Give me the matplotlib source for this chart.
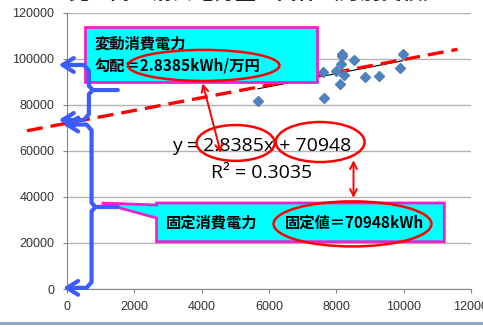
import matplotlib
matplotlib.use("Agg")
import matplotlib.pyplot as plt
from matplotlib.patches import Ellipse, Rectangle, Polygon

# monthly data: sales (万円) vs. power consumption (kWh)
sales = [5670, 7620, 7600, 8000, 8170, 8160, 8140, 8240, 8115, 8510, 8860, 9260, 9970, 9890]
power = [81900, 83200, 94500, 94800, 102200, 101200, 97800, 93000, 89100, 99600, 92300, 92600, 102200, 96000]

slope = 2.8385
intercept = 70948
r2 = 0.3035

# hand-drawn guide line (red dashed)
guide_x = [-1190, 11600]
guide_y = [68800, 104200]

x_ticks = [0, 2000, 4000, 6000, 8000, 10000, 12000]
y_ticks = [0, 20000, 40000, 60000, 80000, 100000, 120000]

cjk = ['Noto Sans CJK JP', 'DejaVu Sans']
blue = '#3b5cff'
magenta = '#ee22cc'
cyan = '#00ffff'

fig = plt.figure(figsize=(4.83, 3.27), dpi=100)
ax = fig.add_axes([67 / 483, 1 - 289 / 327, 404 / 483, 276 / 327])

ax.set_xlim(0, 12000)
ax.set_ylim(0, 120000)
ax.set_xticks(x_ticks)
ax.set_yticks(y_ticks)
ax.set_xticklabels([str(v) for v in x_ticks])
ax.set_yticklabels([str(v) for v in y_ticks])
ax.tick_params(axis='both', labelsize=9, labelcolor='#333333', color='#868686', length=3)
ax.tick_params(axis='y', pad=6)
ax.tick_params(axis='x', pad=6)
for lab in ax.get_xticklabels() + ax.get_yticklabels():
    lab.set_fontfamily('Liberation Sans')
ax.grid(axis='y', color='#b3b3b3', lw=1)
ax.set_axisbelow(True)
for s in ['top', 'right']:
    ax.spines[s].set_visible(False)
for s in ['left', 'bottom']:
    ax.spines[s].set_color('#868686')

# scatter + trend line
ax.plot(sales, power, 'D', color='#4f81bd', ms=5.5, mec='#4f81bd', zorder=4)
tx = [min(sales), max(sales)]
ax.plot(tx, [slope * v + intercept for v in tx], color='black', lw=0.8, zorder=3)

# red dashed guide
ax.plot(guide_x, guide_y, color='#ff0000', lw=2.4, dashes=(4.8, 2.4), clip_on=False, zorder=3)

# equation text
ax.text(5790, 60000, f"y = {slope}x + {intercept}", ha='center', va='baseline',
        fontsize=14, family='Open Sans', color='black', zorder=6)
ax.text(5790, 48200, f"R² = {r2}", ha='center', va='baseline',
        fontsize=14, family='Open Sans', color='black', zorder=6)

# top box: variable consumption
ax.add_patch(Rectangle((530, 90100), 6910, 23700, fc=cyan, ec=magenta, lw=2,
                       clip_on=False, zorder=5))
ax.text(830, 106800, "変動消費電力", ha='left', va='center', fontsize=11,
        family=cjk, weight='bold', zorder=6)
ax.text(830, 97300, f"勾配＝{slope}kWh/万円", ha='left', va='center', fontsize=11,
        family=cjk, weight='bold', zorder=6)

# bottom callout: fixed consumption
callout = [(2660, 37390), (11208, 37390), (11208, 20570), (2660, 20570),
           (2660, 30870), (1029, 37390), (2660, 36520)]
ax.add_patch(Polygon(callout, closed=True, fc=cyan, ec=magenta, lw=2,
                     clip_on=False, zorder=5))
ax.text(2950, 28800, "固定消費電力", ha='left', va='center', fontsize=11,
        family=cjk, weight='bold', zorder=6)
ax.text(6460, 28800, f"固定値＝{intercept}kWh", ha='left', va='center', fontsize=11,
        family=cjk, weight='bold', zorder=6)

# red ellipses
for cx, cy, w, h in [(4060, 97200, 4500, 13500), (5010, 63500, 2320, 15600),
                     (7520, 63900, 2640, 17400), (8480, 28300, 4690, 19600)]:
    ax.add_patch(Ellipse((cx, cy), w, h, fill=False, ec='#ff0000', lw=1.8,
                         clip_on=False, zorder=7))

# red double arrows
ax.annotate('', xy=(4030, 89400), xytext=(4570, 59100), annotation_clip=False,
            arrowprops=dict(arrowstyle='<->', color='#ff0000', lw=1.4,
                            mutation_scale=12, shrinkA=0, shrinkB=0), zorder=7)
ax.annotate('', xy=(8510, 56000), xytext=(8510, 39600), annotation_clip=False,
            arrowprops=dict(arrowstyle='<->', color='#ff0000', lw=1.4,
                            mutation_scale=12, shrinkA=0, shrinkB=0), zorder=7)


# blue braces
def brace(y_top, y_mid, y_bot, x_tip, x_spine, x_nub):
    pts = [(x_tip, y_top), (x_spine - 150, y_top), (x_spine, y_top - 2500),
           (x_spine, y_mid + 1800), (x_spine + 120, y_mid), (x_nub, y_mid)]
    xs, ys = zip(*pts)
    ax.plot(xs, ys, color=blue, lw=3, clip_on=False, zorder=6,
            solid_joinstyle='round', solid_capstyle='round')
    pts = [(x_spine + 120, y_mid), (x_spine, y_mid - 1800), (x_spine, y_bot + 2500),
           (x_spine - 150, y_bot), (x_tip, y_bot)]
    xs, ys = zip(*pts)
    ax.plot(xs, ys, color=blue, lw=3, clip_on=False, zorder=6,
            solid_joinstyle='round', solid_capstyle='round')
    for ty in (y_top, y_bot):
        ax.plot([x_tip + 330, x_tip, x_tip + 330], [ty + 3000, ty, ty - 3000],
                color=blue, lw=3, clip_on=False, zorder=6,
                solid_joinstyle='round', solid_capstyle='round')


brace(97400, 86500, 73500, -130, 650, 1510)
brace(71500, 35650, 500, 0, 730, 1510)

# title (cut off at the top of the image)
fig.text(0.53, 1.0, "売上高と消費電力量の関係（月別実績）", ha='center',
         va='baseline', fontsize=15, family=cjk, weight='bold', color='#222222')

# bottom border band
fig.add_artist(Rectangle((0, 2 / 327), 1, 3.3 / 327, transform=fig.transFigure,
                         color='#8eaacb', lw=0))

fig.savefig('out.png', dpi=100)
